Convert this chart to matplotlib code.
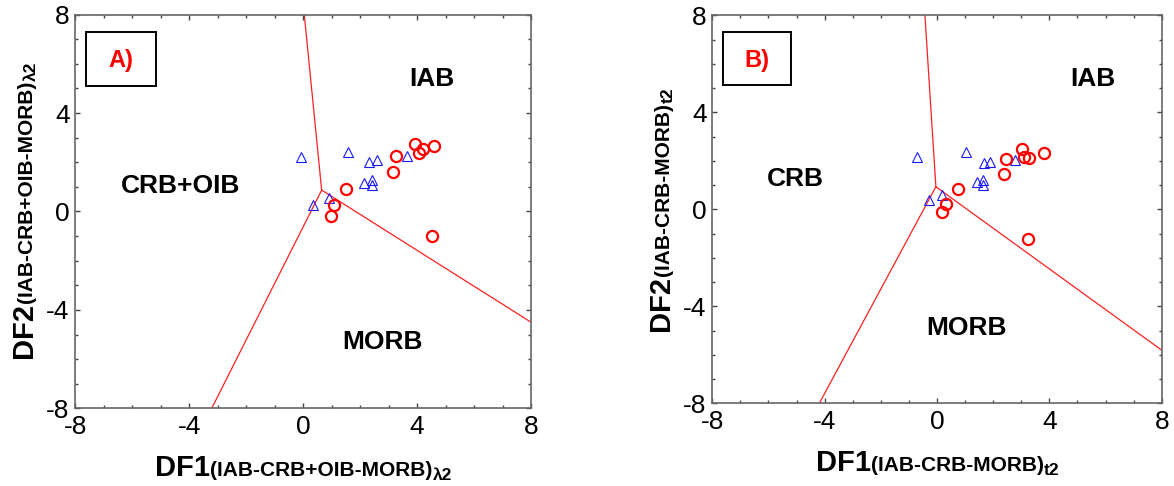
import matplotlib
matplotlib.use("Agg")
import matplotlib.pyplot as plt
from matplotlib.patches import Rectangle
from matplotlib.ticker import MultipleLocator
from matplotlib.transforms import IdentityTransform

plt.rcParams['font.family'] = ['Liberation Sans', 'DejaVu Sans']
plt.rcParams['axes.unicode_minus'] = False

# --- DATA ---
# panel A : DF1/DF2 (IAB-CRB+OIB-MORB)
a_tri_x = [-0.09, 1.59, 2.31, 2.60, 3.64, 2.15, 2.42, 2.43, 0.91, 0.33]
a_tri_y = [2.23, 2.43, 2.03, 2.09, 2.26, 1.17, 1.28, 1.06, 0.55, 0.25]
a_cir_x = [3.92, 4.21, 4.07, 4.60, 3.25, 3.14, 1.50, 1.09, 0.97, 4.54]
a_cir_y = [2.73, 2.53, 2.36, 2.65, 2.27, 1.59, 0.90, 0.25, -0.18, -1.00]
# boundary lines: top end, junction, right end, bottom end
a_bound_x = [0.04, 0.65, 8.0, -3.21]
a_bound_y = [8.0, 0.87, -4.50, -8.0]
a_fields = ["IAB", "CRB+OIB", "MORB"]
a_field_x = [4.52, -4.29, 2.77]
a_field_y = [5.40, 1.04, -5.32]

# panel B : DF1/DF2 (IAB-CRB-MORB)
b_tri_x = [-0.72, 1.03, 1.66, 1.87, 2.78, 1.43, 1.63, 1.64, 0.19, -0.27]
b_tri_y = [2.17, 2.38, 1.92, 1.96, 2.03, 1.11, 1.21, 0.99, 0.58, 0.38]
b_cir_x = [3.04, 3.08, 3.26, 3.82, 2.46, 2.37, 0.74, 0.31, 0.17, 3.23]
b_cir_y = [2.47, 2.14, 2.13, 2.34, 2.07, 1.44, 0.84, 0.23, -0.11, -1.21]
b_bound_x = [-0.43, -0.04, 8.0, -4.19]
b_bound_y = [8.0, 0.93, -5.81, -8.0]
b_fields = ["IAB", "CRB", "MORB"]
b_field_x = [5.54, -5.03, 1.06]
b_field_y = [5.37, 1.25, -4.90]

ticks = [-8, -4, 0, 4, 8]

W, H = 1174, 486
fig = plt.figure(figsize=(W / 100, H / 100), dpi=100)
axA = fig.add_axes([75.3 / W, 1 - 408.3 / H, 455.7 / W, 393.6 / H])
axB = fig.add_axes([712.3 / W, 1 - 403.3 / H, 449.4 / W, 388.0 / H])


def draw_panel(ax, tx, ty, cx, cy, bx, by, names, fx, fy, tag):
    # boundaries from the junction point
    for k in (0, 2, 3):
        ax.plot([bx[1], bx[k]], [by[1], by[k]], color="#ff2020", lw=0.9, zorder=1)
    ax.plot(tx, ty, ls="none", marker="^", ms=6.5, mfc="none", mec="#1a1aff", mew=0.8, zorder=3)
    ax.plot(cx, cy, ls="none", marker="o", ms=8, mfc="none", mec="red", mew=1.6, zorder=3)
    for s, x, y in zip(names, fx, fy):
        ax.text(x, y, s, fontsize=19, fontweight="bold", ha="center", va="center")
    ax.add_patch(Rectangle((0.024, 0.82), 0.152, 0.137, transform=ax.transAxes,
                           fill=False, ec="black", lw=1.4, zorder=4))
    ax.text(0.099, 0.884, tag, transform=ax.transAxes, color="red", fontsize=17,
            fontweight="bold", ha="center", va="center")
    ax.set_xlim(-8, 8)
    ax.set_ylim(-8, 8)
    ax.set_xticks(ticks)
    ax.set_yticks(ticks)
    ax.xaxis.set_minor_locator(MultipleLocator(1))
    ax.yaxis.set_minor_locator(MultipleLocator(1))
    ax.tick_params(which="both", direction="in", top=True, right=True, color="#444444")
    ax.tick_params(which="major", length=3.5, width=1, labelsize=19)
    ax.tick_params(which="minor", length=2, width=1)
    ax.tick_params(axis="x", pad=5)
    ax.tick_params(axis="y", pad=4)
    for sp in ax.spines.values():
        sp.set_color("#666666")
        sp.set_linewidth(1.2)


def stacked_label(pieces, center, base, vertical=False):
    # pieces: (text, fontsize, drop in px); center/base in image pixels
    r = fig.canvas.get_renderer()
    arts = []
    for s, size, drop in pieces:
        t = fig.text(0, 0, s, fontsize=size, fontweight="bold", ha="left", va="baseline",
                     rotation=90 if vertical else 0, rotation_mode="anchor",
                     transform=IdentityTransform())
        bb = t.get_window_extent(r)
        arts.append((t, drop, bb.height if vertical else bb.width))
    total = sum(a[2] for a in arts)
    if vertical:
        pos = (H - center) - total / 2
        for t, drop, L in arts:
            t.set_position((base + drop, pos))
            pos += L
    else:
        pos = center - total / 2
        for t, drop, L in arts:
            t.set_position((pos, H - base - drop))
            pos += L


draw_panel(axA, a_tri_x, a_tri_y, a_cir_x, a_cir_y, a_bound_x, a_bound_y,
           a_fields, a_field_x, a_field_y, "A)")
draw_panel(axB, b_tri_x, b_tri_y, b_cir_x, b_cir_y, b_bound_x, b_bound_y,
           b_fields, b_field_x, b_field_y, "B)")

lab_a = [("DF1", 21, 0), ("(IAB-CRB+OIB-MORB)", 15, 0), ("λ2", 12.5, 4)]
lab_a2 = [("DF2", 21, 0), ("(IAB-CRB+OIB-MORB)", 15, 0), ("λ2", 12.5, 4)]
lab_b = [("DF1", 21, 0), ("(IAB-CRB-MORB)", 15, 0), ("t2", 12.5, 4)]
lab_b2 = [("DF2", 21, 0), ("(IAB-CRB-MORB)", 15, 0), ("t2", 12.5, 4)]

stacked_label(lab_a, 303.5, 476)
stacked_label(lab_a2, 210, 32, vertical=True)
stacked_label(lab_b, 937.4, 471)
stacked_label(lab_b2, 209, 669, vertical=True)

fig.savefig("out.png", dpi=100)
plt.close(fig)
